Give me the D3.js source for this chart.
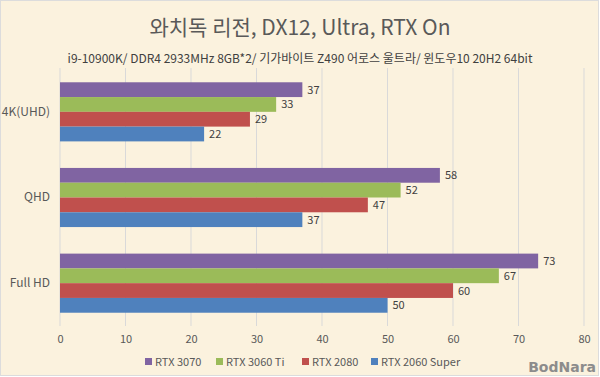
<!DOCTYPE html>
<html><head><meta charset="utf-8">
<script src="https://cdn.jsdelivr.net/npm/d3@7/dist/d3.min.js"></script>
<style>body{margin:0;background:#fff}svg{display:block}</style>
</head><body>
<svg id="c" width="600" height="377"></svg>
<script>
const categories = ["4K(UHD)", "QHD", "Full HD"];
const seriesNames = ["RTX 3070", "RTX 3060 Ti", "RTX 2080", "RTX 2060 Super"];
const rtx3070 = [37, 58, 73];
const rtx3060ti = [33, 52, 67];
const rtx2080 = [29, 47, 60];
const rtx2060s = [22, 37, 50];
const xTicks = [0, 10, 20, 30, 40, 50, 60, 70, 80];
const title = "와치독 리전, DX12, Ultra, RTX On";
const subtitle = "i9-10900K/ DDR4 2933MHz 8GB*2/ 기가바이트 Z490 어로스 울트라/ 윈도우10 20H2 64bit";

const seriesValues = [rtx3070, rtx3060ti, rtx2080, rtx2060s];
const colors = ["#8064A2", "#9BBB59", "#C0504D", "#4F81BD"];
const font = "'Noto Sans CJK KR', 'Noto Sans', sans-serif";

const svg = d3.select("#c");
svg.append("rect").attr("x",0.5).attr("y",0.5).attr("width",598).attr("height",375)
  .attr("fill","#FBF2DE").attr("stroke","#dcdcdc");

const x = d3.scaleLinear().domain([0, 80]).range([60, 584]);
const y = d3.scaleBand().domain(categories).range([69, 326]).paddingInner(0.31).paddingOuter(0.155);
const ySub = d3.scaleBand().domain(seriesNames).range([0, y.bandwidth()]);

// gridlines
svg.append("g").selectAll("line").data(xTicks).join("line")
  .attr("x1", d=>x(d)).attr("x2", d=>x(d)).attr("y1", 68).attr("y2", 326)
  .attr("stroke", "#d9d9d9").attr("stroke-width", 1);

// x axis
const xAxis = d3.axisBottom(x).tickValues(xTicks).tickSize(0).tickPadding(0);
const gx = svg.append("g").attr("transform", "translate(0,333)").call(xAxis);
gx.select(".domain").remove();
gx.selectAll("text").attr("font-family", font).attr("font-size", 11).attr("fill", "#595959").attr("dy", "0.9em");

// y axis
const yAxis = d3.axisLeft(y).tickSize(0).tickPadding(0);
const gy = svg.append("g").attr("transform", "translate(50,0)").call(yAxis);
gy.select(".domain").remove();
gy.selectAll("text").attr("font-family", font).attr("font-size", 12).attr("fill", "#595959");

// bars
seriesNames.forEach((s, si) => {
  const g = svg.append("g");
  g.selectAll("rect").data(categories).join("rect")
    .attr("x", x(0))
    .attr("y", c => y(c) + ySub(s))
    .attr("width", (c, i) => x(seriesValues[si][i]) - x(0))
    .attr("height", ySub.bandwidth())
    .attr("fill", colors[si]);
  g.selectAll("text").data(categories).join("text")
    .attr("x", (c, i) => x(seriesValues[si][i]) + 5)
    .attr("y", c => y(c) + ySub(s) + ySub.bandwidth()/2)
    .attr("dy", "0.36em")
    .attr("font-family", font).attr("font-size", 11).attr("fill", "#404040")
    .text((c, i) => seriesValues[si][i]);
});

// title
svg.append("text").attr("x", 300).attr("y", 35).attr("text-anchor", "middle")
  .attr("font-family", font).attr("font-size", 21).attr("fill", "#595959").text(title);
svg.append("text").attr("x", 300).attr("y", 63).attr("text-anchor", "middle")
  .attr("font-family", font).attr("font-size", 12).attr("fill", "#404040").text(subtitle);

// legend
const legendX = [145, 216, 302, 371];
seriesNames.forEach((s, i) => {
  svg.append("rect").attr("x", legendX[i]).attr("y", 358).attr("width", 7).attr("height", 7).attr("fill", colors[i]);
  svg.append("text").attr("x", legendX[i] + 10).attr("y", 362).attr("dy", "0.36em")
    .attr("font-family", font).attr("font-size", 11).attr("fill", "#595959").text(s);
});

// watermark
svg.append("text").attr("x", 596).attr("y", 372).attr("text-anchor", "end")
  .attr("font-family", "'DejaVu Sans', sans-serif").attr("font-weight", "bold").attr("font-size", 14)
  .attr("fill", "#8c8c8c").text("BodNara");
</script>
</body></html>
